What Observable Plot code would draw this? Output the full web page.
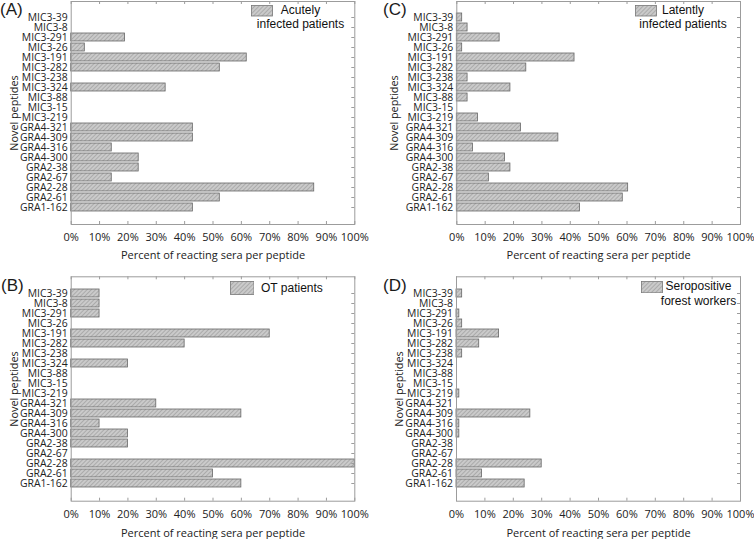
<!DOCTYPE html>
<html><head><meta charset="utf-8">
<script src="https://cdn.jsdelivr.net/npm/d3@7"></script>
<script src="https://cdn.jsdelivr.net/npm/@observablehq/plot@0.6"></script>
<style>
html,body{margin:0;padding:0;background:#fff;}
#root{position:relative;width:754px;height:539px;overflow:hidden;font-family:"Open Sans",sans-serif;color:#222;}
.panel{position:absolute;}
.panel svg{overflow:visible;}
.tag{position:absolute;font-family:"Liberation Sans",Arial,sans-serif;font-size:17px;line-height:normal;color:#1a1a1a;white-space:nowrap;}
.legtx{position:absolute;font-family:"Liberation Sans",Arial,sans-serif;font-size:12px;line-height:14.5px;color:#111;white-space:nowrap;}
.legsw{position:absolute;}
</style></head>
<body>
<svg width="0" height="0" style="position:absolute">
  <defs>
    <pattern id="hatch" width="3" height="3" patternUnits="userSpaceOnUse" patternTransform="rotate(45)">
      <rect width="3" height="3" fill="#cacaca"></rect>
      <line x1="0.5" y1="0" x2="0.5" y2="3" stroke="#ababab" stroke-width="1"></line>
    </pattern>
  </defs>
</svg>
<div id="root"></div>
<script>
const peptides = ["MIC3-39","MIC3-8","MIC3-291","MIC3-26","MIC3-191","MIC3-282","MIC3-238","MIC3-324","MIC3-88","MIC3-15","MIC3-219","GRA4-321","GRA4-309","GRA4-316","GRA4-300","GRA2-38","GRA2-67","GRA2-28","GRA2-61","GRA1-162"];
const acute  = [0, 0, 19.0, 4.8, 61.9, 52.4, 0, 33.3, 0, 0, 0, 42.9, 42.9, 14.3, 23.8, 23.8, 14.3, 85.7, 52.4, 42.9];
const latent = [1.9, 3.8, 15.1, 1.9, 41.5, 24.5, 3.8, 18.9, 3.8, 0, 7.5, 22.6, 35.8, 5.7, 17.0, 18.9, 11.3, 60.4, 58.5, 43.4];
const ot     = [10, 10, 10, 0, 70, 40, 0, 20, 0, 0, 0, 30, 60, 10, 20, 20, 0, 100, 50, 60];
const forest = [2, 0, 1, 2, 15, 8, 2, 0, 0, 0, 1, 0, 26, 1, 1, 0, 0, 30, 9, 24];
const xTicks = [0,10,20,30,40,50,60,70,80,90,100];
const xTitle = "Percent of reacting sera per peptide";
const yTitle = "Novel peptides";

const panels = [
  {tag:"(A)", values:acute, left:0, top:0, w:377, h:270, ml:70.7, mr:22.7, mt:1, mb:46, ylo:60.7, xlo:34,
   legend:["Acutely","infected patients"], sw:[251.7,5.7,21,10.5], tx:{cx:300.5, top:2.9}, tagPos:[0,0]},
  {tag:"(C)", values:latent, left:377, top:0, w:377, h:270, ml:79.3, mr:14, mt:1, mb:46, ylo:66.3, xlo:34,
   legend:["Latently","infected patients"], sw:[258.7,5.7,21,10.5], tx:{cx:306, top:2.9}, tagPos:[6,0]},
  {tag:"(B)", values:ot, left:0, top:270, w:377, h:269, ml:70.7, mr:22.7, mt:6.3, mb:38.3, ylo:61, xlo:35.5,
   legend:["OT patients"], sw:[230,11.5,23.5,13], tx:{left:261, top:10.9}, tagPos:[1,5.6]},
  {tag:"(D)", values:forest, left:377, top:270, w:377, h:269, ml:79, mr:14, mt:6.3, mb:38.3, ylo:61, xlo:35.5,
   legend:["Seropositive","forest workers"], sw:[264.5,11,21,11.3], tx:{cx:321.5, top:9.4}, tagPos:[6,5.6]}
];

const root = document.getElementById("root");
const grey = "#9c9c9c";

for (const p of panels) {
  const data = peptides.map((name, i) => ({peptide: name, value: p.values[i]})).filter(d => d.value > 0);
  const fh = p.h - p.mt - p.mb;
  const fw = p.w - p.ml - p.mr;
  const chart = Plot.plot({
    width: p.w, height: p.h,
    marginLeft: p.ml, marginRight: p.mr, marginTop: p.mt, marginBottom: p.mb,
    style: {fontFamily: "'Open Sans', sans-serif", color: "#222", background: "transparent", overflow: "visible"},
    x: {domain: [0, 100]},
    y: {domain: peptides, padding: 0.16, insetTop: 4.8, insetBottom: 4.4},
    marks: [
      Plot.barX(data, {x: "value", y: "peptide", fill: "url(#hatch)", stroke: "#666", strokeWidth: 0.8}),
      Plot.ruleX(xTicks, {stroke: grey, insetTop: fh - 3}),
      Plot.ruleX(xTicks, {stroke: grey, insetBottom: fh - 3}),
      Plot.ruleY(peptides, {stroke: grey, insetLeft: fw - 3}),
      Plot.frame({stroke: grey}),
      Plot.axisX({ticks: xTicks, tickFormat: d => d + "%", tickSize: 0, tickPadding: 8.5, fontSize: 11,
                  label: xTitle, labelAnchor: "center", labelOffset: p.xlo, labelArrow: "none"}),
      Plot.axisY({tickSize: 0, tickPadding: 3.5, fontSize: 10.4,
                  label: yTitle, labelAnchor: "center", labelOffset: p.ylo, labelArrow: "none"})
    ]
  });
  const div = document.createElement("div");
  div.className = "panel";
  div.style.left = p.left + "px";
  div.style.top = p.top + "px";
  div.appendChild(chart);
  root.appendChild(div);

  d3.select(chart).selectAll("g[aria-label='x-axis label'] text").attr("font-size", 11);
  d3.select(chart).selectAll("g[aria-label='y-axis label'] text").attr("font-size", 10.8);

  const tag = document.createElement("div");
  tag.className = "tag";
  tag.textContent = p.tag;
  tag.style.left = (p.left + p.tagPos[0]) + "px";
  tag.style.top = (p.top + p.tagPos[1]) + "px";
  root.appendChild(tag);

  const [sx, sy, sw, sh] = p.sw;
  const sv = d3.create("svg").attr("class", "legsw").attr("width", sw + 1).attr("height", sh + 1)
    .style("left", (p.left + sx - 0.5) + "px").style("top", (p.top + sy - 0.5) + "px");
  sv.append("rect").attr("x", 0.5).attr("y", 0.5).attr("width", sw).attr("height", sh)
    .attr("fill", "url(#hatch)").attr("stroke", "#777").attr("stroke-width", 0.8);
  root.appendChild(sv.node());

  const tx = document.createElement("div");
  tx.className = "legtx";
  tx.innerHTML = p.legend.join("<br>");
  tx.style.top = (p.top + p.tx.top) + "px";
  if (p.tx.cx !== undefined) {
    tx.style.left = (p.left + p.tx.cx - 100) + "px";
    tx.style.width = "200px";
    tx.style.textAlign = "center";
  } else {
    tx.style.left = (p.left + p.tx.left) + "px";
  }
  root.appendChild(tx);
}
</script>
</body></html>
